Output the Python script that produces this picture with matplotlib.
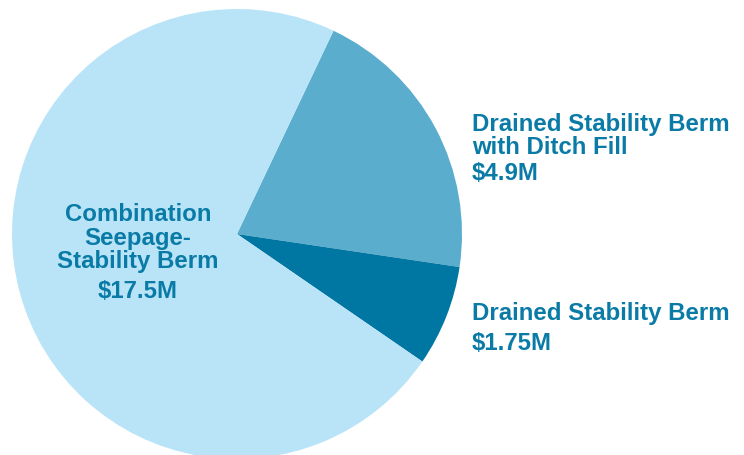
import matplotlib
matplotlib.use("Agg")
import matplotlib.pyplot as plt

categories = ["Drained Stability Berm\nwith Ditch Fill", "Drained Stability Berm", "Combination\nSeepage-\nStability Berm"]
values = [4.9, 1.75, 17.5]
value_labels = ["$4.9M", "$1.75M", "$17.5M"]
colors = ["#5BADCE", "#0077A3", "#B9E4F8"]
text_color = "#0A7BA6"

W, H = 744, 456
fig = plt.figure(figsize=(W / 100, H / 100), dpi=100)
ax = fig.add_axes([0, 0, 1, 1])
ax.set_xlim(0, W)
ax.set_ylim(0, H)
ax.axis("off")

cx, cy, r = 237, H - 235, 225
ax.pie(values, colors=colors, startangle=64.6, counterclock=False,
       center=(cx, cy), radius=r, wedgeprops=dict(linewidth=0))
ax.set_xlim(0, W)
ax.set_ylim(0, H)
ax.set_aspect("auto")

font = dict(family=["Liberation Sans", "DejaVu Sans"], weight="bold", fontsize=17.3, color=text_color)

def put_lines(x, y0, lines, step, ha):
    for i, ln in enumerate(lines):
        ax.text(x, H - (y0 + i * step), ln, ha=ha, va="baseline", **font)

# medium slice label
put_lines(472, 131, categories[0].split("\n"), 23.5, "left")
ax.text(472, H - 180, value_labels[0], ha="left", va="baseline", **font)
# dark slice label
put_lines(472, 320, categories[1].split("\n"), 23.5, "left")
ax.text(472, H - 350, value_labels[1], ha="left", va="baseline", **font)
# large slice label
put_lines(138, 221, categories[2].split("\n"), 23.5, "center")
ax.text(138, H - 298, value_labels[2], ha="center", va="baseline", **font)

fig.savefig("out.png", dpi=100)
